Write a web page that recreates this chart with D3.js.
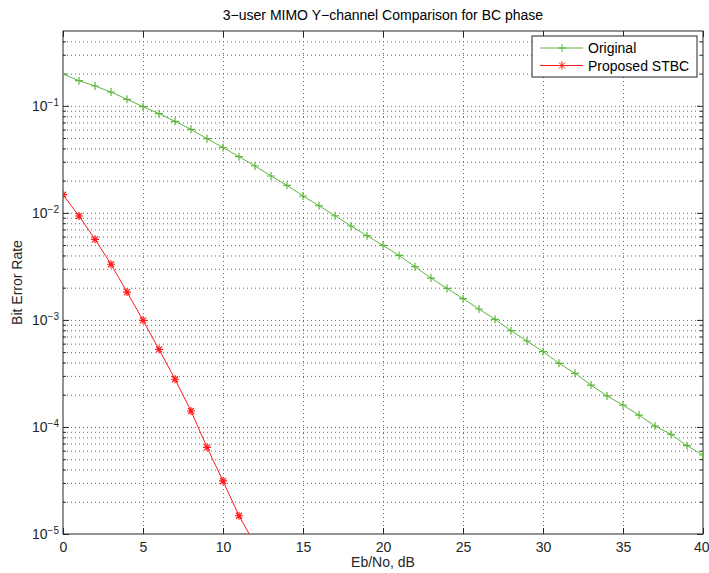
<!DOCTYPE html>
<html>
<head>
<meta charset="utf-8">
<script src="https://cdn.jsdelivr.net/npm/d3@7"></script>
<style>
  body { margin: 0; background: #fff; }
  svg { font-family: "Liberation Sans", Arial, sans-serif; }
  .grid line { stroke: #666; stroke-dasharray: 1 3; }
  .grid .domain { display: none; }
</style>
</head>
<body>
<div class="fondo"></div>
<script>
// Eb/No, dB
var ebno = d3.range(0, 41);
var ebnoStbc = d3.range(0, 13);

// BER of the original scheme, 0..40 dB
var berOriginal = [
  0.198, 0.1717, 0.1532, 0.1346, 0.1151, 0.0981, 0.0844, 0.0717, 0.0603, 0.0493,
  0.0408, 0.0335, 0.0274, 0.0221, 0.0181, 0.01437, 0.01166, 0.0094, 0.00754, 0.00612,
  0.00496, 0.0040, 0.00314, 0.00246, 0.00197, 0.00158, 0.001264, 0.001013, 0.000793, 0.000635,
  0.000507, 0.000393, 0.000317, 0.000246, 0.000195, 0.000160, 0.000129, 0.000102, 8.53e-5, 6.68e-5,
  5.47e-5
];

// BER of the proposed STBC, 0..12 dB
var berStbc = [
  0.01478, 0.00935, 0.00566, 0.00331, 0.00182, 0.000991, 0.000531, 0.000279, 0.000141, 6.45e-5,
  3.13e-5, 1.48e-5, 8.0e-6
];

var xTicks = [0, 5, 10, 15, 20, 25, 30, 35, 40];
var yDecades = [1e-5, 1e-4, 1e-3, 1e-2, 1e-1];
var yMinor = [];
yDecades.forEach(function (d) {
  for (var k = 2; k <= 9; k++) {
    if (d * k < 0.5) yMinor.push(d * k);
  }
});

var mLeft = 63, mRight = 703, mTop = 31, mBottom = 534;

var svg = d3.select('.fondo')
  .append('svg')
  .attr('width', 709)
  .attr('height', 573);

var xScale = d3.scaleLinear().domain([0, 40]).range([mLeft, mRight]);
var yScale = d3.scaleLog().domain([1e-5, 0.5]).range([mBottom, mTop]);

// grid
svg.append('g')
  .attr('class', 'grid')
  .attr('transform', 'translate(0,' + mBottom + ')')
  .call(d3.axisBottom(xScale).tickValues(xTicks.slice(1, -1)).tickSize(-(mBottom - mTop)).tickFormat(''));

svg.append('g')
  .attr('class', 'grid')
  .attr('transform', 'translate(' + mLeft + ',0)')
  .call(d3.axisLeft(yScale).tickValues(yDecades.slice(1).concat(yMinor)).tickSize(-(mRight - mLeft)).tickFormat(''));

// box
svg.append('rect')
  .attr('x', mLeft)
  .attr('y', mTop)
  .attr('width', mRight - mLeft)
  .attr('height', mBottom - mTop)
  .attr('fill', 'none')
  .attr('stroke', '#262626');

function estilo(g) {
  g.select('.domain').remove();
  g.selectAll('line').attr('stroke', '#262626');
  g.selectAll('text').attr('fill', '#262626').style('font-size', '14px');
}

var xAxisG = svg.append('g')
  .attr('transform', 'translate(0,' + mBottom + ')')
  .call(d3.axisBottom(xScale).tickValues(xTicks).tickSizeInner(-6).tickSizeOuter(0).tickPadding(8))
  .call(estilo);

// the last label sits at the window edge
xAxisG.selectAll('.tick text')
  .filter(function (d) { return d === 40; })
  .attr('text-anchor', 'end')
  .attr('x', 6);

svg.append('g')
  .attr('transform', 'translate(0,' + mTop + ')')
  .call(d3.axisTop(xScale).tickValues(xTicks).tickSizeInner(-6).tickSizeOuter(0).tickFormat(''))
  .call(estilo);

var yLeft = svg.append('g')
  .attr('transform', 'translate(' + mLeft + ',0)')
  .call(d3.axisLeft(yScale).tickValues(yDecades).tickSizeInner(-6).tickSizeOuter(0).tickPadding(4).tickFormat(''))
  .call(estilo);

yLeft.selectAll('.tick text')
  .each(function (d) {
    var t = d3.select(this);
    t.append('tspan').text('10');
    t.append('tspan')
      .attr('dy', '-0.45em')
      .style('font-size', '10px')
      .text('\u2212' + Math.round(-Math.log10(d)));
  });

svg.append('g')
  .attr('transform', 'translate(' + mLeft + ',0)')
  .call(d3.axisLeft(yScale).tickValues(yMinor).tickSizeInner(-3).tickSizeOuter(0).tickFormat(''))
  .call(estilo);

svg.append('g')
  .attr('transform', 'translate(' + mRight + ',0)')
  .call(d3.axisRight(yScale).tickValues(yDecades).tickSizeInner(-6).tickSizeOuter(0).tickFormat(''))
  .call(estilo);

svg.append('g')
  .attr('transform', 'translate(' + mRight + ',0)')
  .call(d3.axisRight(yScale).tickValues(yMinor).tickSizeInner(-3).tickSizeOuter(0).tickFormat(''))
  .call(estilo);

// curves
svg.append('clipPath')
  .attr('id', 'recorte')
  .append('rect')
  .attr('x', mLeft)
  .attr('y', mTop)
  .attr('width', mRight - mLeft)
  .attr('height', mBottom - mTop);

var plano = svg.append('g').attr('clip-path', 'url(#recorte)');

var verde = '#5cb83c';
var rojo = '#ff1a1a';
var cruz = 'M-4,0H4M0,-4V4';
var estrella = 'M-4,0H4M0,-4V4M-3,-3L3,3M-3,3L3,-3';

var linea = d3.line()
  .x(function (d) { return xScale(d[0]); })
  .y(function (d) { return yScale(d[1]); });

var series = [
  { x: ebno, y: berOriginal, color: verde, marca: cruz, nombre: 'Original' },
  { x: ebnoStbc, y: berStbc, color: rojo, marca: estrella, nombre: 'Proposed STBC' }
];

series.forEach(function (s) {
  var pts = s.x.map(function (v, i) { return [v, s.y[i]]; });
  plano.append('path')
    .datum(pts)
    .attr('d', linea)
    .attr('fill', 'none')
    .attr('stroke', s.color)
    .attr('stroke-width', 1);
  plano.selectAll(null)
    .data(pts)
    .enter()
    .append('path')
    .attr('d', s.marca)
    .attr('transform', function (d) {
      return 'translate(' + xScale(d[0]) + ',' + yScale(d[1]) + ')';
    })
    .attr('fill', 'none')
    .attr('stroke', s.color)
    .attr('stroke-width', 1.2);
});

// texts
svg.append('text')
  .attr('x', (mLeft + mRight) / 2)
  .attr('y', 20)
  .attr('text-anchor', 'middle')
  .attr('fill', '#000')
  .style('font-size', '14px')
  .text('3\u2212user MIMO Y\u2212channel Comparison for BC phase');

svg.append('text')
  .attr('x', (mLeft + mRight) / 2)
  .attr('y', 567)
  .attr('text-anchor', 'middle')
  .attr('fill', '#262626')
  .style('font-size', '14px')
  .text('Eb/No, dB');

svg.append('text')
  .attr('transform', 'translate(22,' + (mTop + mBottom) / 2 + ') rotate(-90)')
  .attr('text-anchor', 'middle')
  .attr('fill', '#262626')
  .style('font-size', '14px')
  .text('Bit Error Rate');

// legend
var leyenda = svg.append('g');
leyenda.append('rect')
  .attr('x', 532)
  .attr('y', 36)
  .attr('width', 165)
  .attr('height', 41)
  .attr('fill', '#fff')
  .attr('stroke', '#262626');

series.forEach(function (s, i) {
  var yy = 48 + i * 17.5;
  leyenda.append('line')
    .attr('x1', 540).attr('x2', 583)
    .attr('y1', yy).attr('y2', yy)
    .attr('stroke', s.color);
  leyenda.append('path')
    .attr('d', s.marca)
    .attr('transform', 'translate(562,' + yy + ')')
    .attr('fill', 'none')
    .attr('stroke', s.color);
  leyenda.append('text')
    .attr('x', 588)
    .attr('y', yy + 5)
    .attr('fill', '#000')
    .style('font-size', '14px')
    .text(s.nombre);
});
</script>
</body>
</html>
